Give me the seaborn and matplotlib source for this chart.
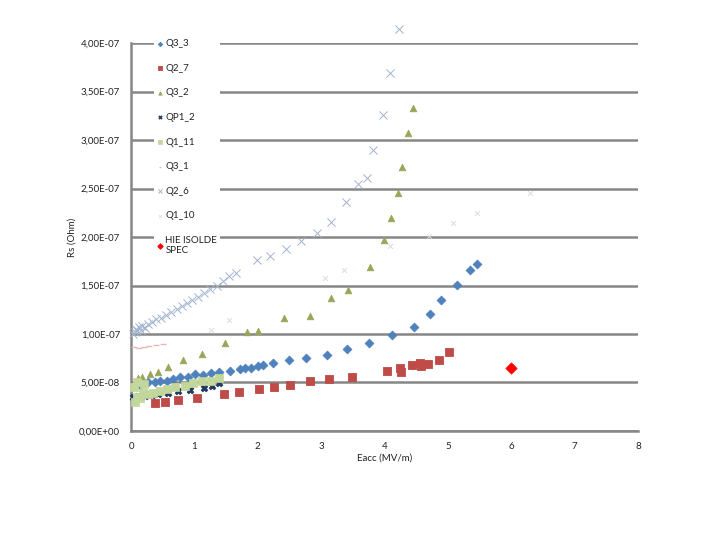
import numpy as np
import pandas as pd
import matplotlib
matplotlib.use("Agg")
import matplotlib.pyplot as plt
import seaborn as sns
from matplotlib.ticker import FuncFormatter, MultipleLocator

# data (Rs in units of 1e-7 Ohm)
q3_3_x = [0.14, 0.19, 0.27, 0.38, 0.46, 0.57, 0.66, 0.77, 0.90, 1.01, 1.14, 1.26, 1.39, 1.56, 1.72,
          1.80, 1.89, 2.00, 2.08, 2.24, 2.49, 2.76, 3.09, 3.41, 3.75, 4.12, 4.47, 4.72, 4.89, 5.14, 5.35, 5.46]
q3_3_y = [0.47, 0.49, 0.50, 0.50, 0.51, 0.52, 0.54, 0.56, 0.56, 0.59, 0.58, 0.60, 0.61, 0.62, 0.64,
          0.65, 0.65, 0.67, 0.68, 0.70, 0.73, 0.75, 0.78, 0.84, 0.91, 0.99, 1.07, 1.21, 1.35, 1.51, 1.66, 1.72]

q2_7_x = [0.38, 0.54, 0.74, 1.04, 1.47, 1.70, 2.02, 2.26, 2.51, 2.82, 3.12, 3.49, 4.04, 4.24, 4.26,
          4.43, 4.56, 4.57, 4.68, 4.86, 5.02]
q2_7_y = [0.29, 0.30, 0.32, 0.34, 0.38, 0.40, 0.43, 0.45, 0.47, 0.51, 0.54, 0.56, 0.62, 0.65, 0.61,
          0.68, 0.70, 0.67, 0.69, 0.73, 0.81]

q3_2_x = [0.11, 0.17, 0.30, 0.43, 0.58, 0.82, 1.12, 1.48, 1.83, 2.00, 2.41, 2.82, 3.16, 3.42, 3.77,
          3.99, 4.10, 4.21, 4.27, 4.37, 4.45]
q3_2_y = [0.55, 0.56, 0.59, 0.61, 0.66, 0.73, 0.79, 0.91, 1.02, 1.03, 1.17, 1.19, 1.37, 1.45, 1.69,
          1.97, 2.20, 2.45, 2.72, 3.07, 3.33]

qp1_2_x = [0.03, 0.11, 0.22, 0.33, 0.43, 0.58, 0.74, 0.93, 1.15, 1.28, 1.39]
qp1_2_y = [0.35, 0.36, 0.36, 0.37, 0.38, 0.39, 0.41, 0.42, 0.44, 0.46, 0.49]

q1_11_x = [0.05, 0.06, 0.09, 0.10, 0.14, 0.19, 0.20, 0.27, 0.35, 0.46, 0.57, 0.69, 0.85, 0.98, 1.12, 1.26, 1.39]
q1_11_y = [0.45, 0.30, 0.35, 0.50, 0.34, 0.39, 0.48, 0.38, 0.39, 0.41, 0.43, 0.45, 0.46, 0.49, 0.51, 0.52, 0.55]

q3_1_x = [0.05, 0.12, 0.20, 0.28, 0.40, 0.50]
q3_1_y = [0.87, 0.86, 0.87, 0.88, 0.89, 0.90]

q2_6_x = [0.03, 0.06, 0.08, 0.10, 0.12, 0.15, 0.18, 0.22, 0.27, 0.33, 0.40, 0.47, 0.55, 0.63, 0.72,
          0.80, 0.88, 0.97, 1.06, 1.15, 1.25, 1.35, 1.45, 1.55, 1.65, 1.99, 2.20, 2.44, 2.68, 2.93,
          3.16, 3.39, 3.58, 3.72, 3.82, 3.97, 4.09, 4.23]
q2_6_y = [1.00, 1.02, 1.05, 1.03, 1.07, 1.04, 1.08, 1.06, 1.10, 1.12, 1.15, 1.17, 1.20, 1.23, 1.26,
          1.29, 1.32, 1.35, 1.38, 1.42, 1.46, 1.50, 1.55, 1.60, 1.63, 1.76, 1.80, 1.88, 1.96, 2.04,
          2.16, 2.36, 2.55, 2.61, 2.90, 3.26, 3.69, 4.15]

q1_10_x = [1.26, 1.55, 3.06, 3.36, 4.09, 4.70, 5.08, 5.46, 6.30]
q1_10_y = [1.04, 1.14, 1.58, 1.66, 1.91, 2.01, 2.15, 2.25, 2.45]

hie_x = [6.0]
hie_y = [0.65]

series = [
    ("Q3_3", q3_3_x, q3_3_y, "D", "#4F81BD", 20, 0.6),
    ("Q2_7", q2_7_x, q2_7_y, "s", "#BE4B48", 30, 0.6),
    ("Q3_2", q3_2_x, q3_2_y, "^", "#9BA55A", 22, 0.6),
    ("QP1_2", qp1_2_x, qp1_2_y, "X", "#1F3A5F", 24, 0.5),
    ("Q1_11", q1_11_x, q1_11_y, "s", "#C3D69B", 26, 0.5),
    ("Q3_1", q3_1_x, q3_1_y, "_", "#E6B9B8", 16, 1.0),
    ("Q2_6", q2_6_x, q2_6_y, "x", "#A3B4D0", 34, 0.7),
    ("Q1_10", q1_10_x, q1_10_y, "x", "#DCDCDC", 12, 0.7),
    ("HIE ISOLDE\nSPEC", hie_x, hie_y, "D", "#FF0000", 32, 0.6),
]

sns.set_style("white")
plt.rcParams['font.family'] = ['Lato', 'DejaVu Sans']

fig = plt.figure(figsize=(7.2, 5.4), dpi=100)
ax = fig.add_axes([0.182, 0.202, 0.704, 0.718])

for name, xs, ys, mk, col, s, lw in series:
    df = pd.DataFrame({"x": xs, "y": np.array(ys) * 1e-7})
    if mk in ("x", "_"):
        sns.scatterplot(data=df, x="x", y="y", ax=ax, marker=mk, color=col, s=s,
                        linewidth=lw, label=name, clip_on=False, zorder=3)
    else:
        sns.scatterplot(data=df, x="x", y="y", ax=ax, marker=mk, color=col, s=s,
                        edgecolor=col, linewidth=lw, label=name, clip_on=False, zorder=3)

ax.set_xlim(0, 8)
ax.set_ylim(0, 4e-7)
ax.xaxis.set_major_locator(MultipleLocator(1))
ax.yaxis.set_major_locator(MultipleLocator(5e-8))
ax.yaxis.set_major_formatter(FuncFormatter(lambda v, p: f"{v:.2E}".replace(".", ",")))

ax.grid(axis="y", color="#868686", linewidth=1.8)
ax.set_axisbelow(True)
for side in ["top", "right"]:
    ax.spines[side].set_visible(False)
for side in ["left", "bottom"]:
    ax.spines[side].set_color("#868686")
    ax.spines[side].set_linewidth(1.8)
ax.tick_params(axis="both", direction="out", length=5, width=1.5, color="#868686",
               labelsize=7, pad=3, labelcolor="#222222")

ax.set_xlabel("Eacc (MV/m)", fontsize=7, labelpad=2, color="#222222")
ax.set_ylabel("Rs (Ohm)", fontsize=7, labelpad=2, color="#222222")

leg = ax.legend(loc="upper left", bbox_to_anchor=(0.035, 1.03), frameon=True, facecolor="white",
                edgecolor="none", framealpha=1, fontsize=7, labelspacing=1.6,
                handletextpad=0.1, handlelength=0.8, markerscale=0.5, borderpad=0.3)
for t in leg.get_texts():
    t.set_color("#222222")
leg.set_zorder(5)

plt.savefig("out.png", dpi=100)
